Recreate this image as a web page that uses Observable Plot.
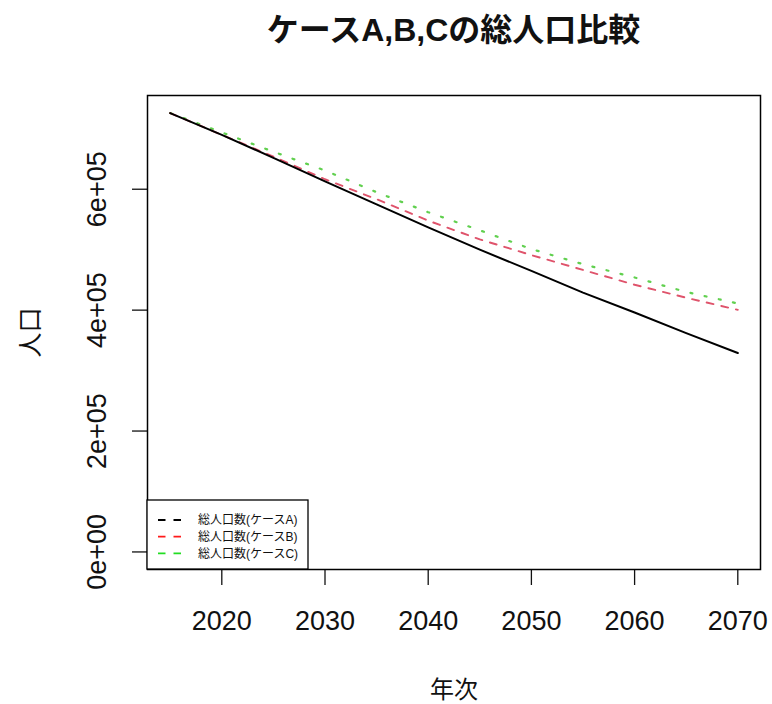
<!DOCTYPE html>
<html>
<head>
<meta charset="utf-8">
<script src="https://cdn.jsdelivr.net/npm/d3@7"></script>
<script src="https://cdn.jsdelivr.net/npm/@observablehq/plot@0.6"></script>
<style>
  body { margin: 0; background: #fff; }
  #wrap { position: relative; width: 772px; height: 704px; background: #fff; }
  #title { position: absolute; left: 147px; width: 613px; top: 8px; text-align: center;
    font-family: "Liberation Sans", "Noto Sans CJK JP", sans-serif; font-weight: bold; font-size: 32px; line-height: 44px; color: #111; }
  #chart { position: absolute; left: 0; top: 60px; }
</style>
</head>
<body>
<div id="wrap">
  <div id="title">ケースA,B,Cの総人口比較</div>
  <div id="chart"></div>
</div>
<script>
const years = [2015, 2020, 2025, 2030, 2035, 2040, 2045, 2050, 2055, 2060, 2065, 2070];
const caseA = [726000, 690000, 652000, 613000, 575000, 537000, 500000, 465000, 429000, 396000, 362000, 329000];
const caseB = [726000, 690000, 654000, 616500, 583500, 548000, 517000, 491000, 466500, 442000, 420500, 400500];
const caseC = [726000, 694000, 662000, 631000, 595000, 562000, 532000, 501000, 476000, 454000, 430000, 411000];
const xTicks = [2020, 2030, 2040, 2050, 2060, 2070];
const yTicks = [0, 200000, 400000, 600000];
const yTickLabels = ["0e+00", "2e+05", "4e+05", "6e+05"];
const legendLabels = ["総人口数(ケースA)", "総人口数(ケースB)", "総人口数(ケースC)"];
const legendColors = ["#000000", "#ff1a1a", "#22dd22"];

const font = '"Liberation Sans", "Noto Sans CJK JP", sans-serif';
const toRows = (vals) => years.map((y, i) => ({year: y, value: vals[i]}));
const yMax = d3.max([...caseA, ...caseB, ...caseC]);
const yPad = yMax * 0.04;
const xPad = (years[years.length - 1] - years[0]) * 0.04;

const plot = Plot.plot({
  width: 772,
  height: 644,
  marginTop: 35,
  marginLeft: 147,
  marginRight: 12,
  marginBottom: 135,
  style: {fontFamily: font, fontSize: "26px", color: "#111", background: "#fff"},
  x: {domain: [years[0] - xPad, years[years.length - 1] + xPad]},
  y: {domain: [0 - yPad, yMax + yPad]},
  marks: [
    Plot.axisX({ticks: xTicks, tickSize: 16, tickPadding: 25, tickFormat: d => String(d), fontSize: 27, label: null, strokeWidth: 1.3}),
    Plot.axisY({ticks: yTicks, tickSize: 15, tickFormat: () => "", label: null, strokeWidth: 1.3}),
    Plot.text(yTicks, {y: d => d, text: (d, i) => yTickLabels[i], frameAnchor: "left", dx: -50, rotate: -90, fontSize: 27, textAnchor: "middle"}),
    Plot.text(["人口"], {frameAnchor: "left", dx: -117, rotate: -90, fontSize: 25, textAnchor: "middle"}),
    Plot.text(["年次"], {frameAnchor: "bottom", dy: 128, fontSize: 24, textAnchor: "middle"}),
    Plot.line(toRows(caseC), {x: "year", y: "value", stroke: "#61D04F", strokeWidth: 2.2, strokeDasharray: "2 12.5"}),
    Plot.line(toRows(caseB), {x: "year", y: "value", stroke: "#DF536B", strokeWidth: 1.9, strokeDasharray: "7 8"}),
    Plot.line(toRows(caseA), {x: "year", y: "value", stroke: "#000", strokeWidth: 2}),
    Plot.frame({stroke: "#000", strokeWidth: 1.5})
  ]
});
document.getElementById("chart").appendChild(plot);

// legend (bottom-left inside plot frame)
const svg = d3.select(plot);
const left = 147, bottom = 644 - 135;
const lg = svg.append("g").attr("font-family", font).attr("text-anchor", "start");
lg.append("rect").attr("x", left).attr("y", bottom - 69).attr("width", 161).attr("height", 69)
  .attr("fill", "#fff").attr("stroke", "#000").attr("stroke-width", 1.3);
legendLabels.forEach((lab, i) => {
  const yy = bottom - 49 + i * 16.7;
  lg.append("line").attr("x1", 158).attr("x2", 182).attr("y1", yy).attr("y2", yy)
    .attr("stroke", legendColors[i]).attr("stroke-width", 1.8).attr("stroke-dasharray", "7.5 8");
  lg.append("text").attr("x", 198).attr("y", yy).attr("dy", "0.35em").attr("font-size", 12)
    .attr("text-anchor", "start").attr("fill", "#111").text(lab);
});
</script>
</body>
</html>
